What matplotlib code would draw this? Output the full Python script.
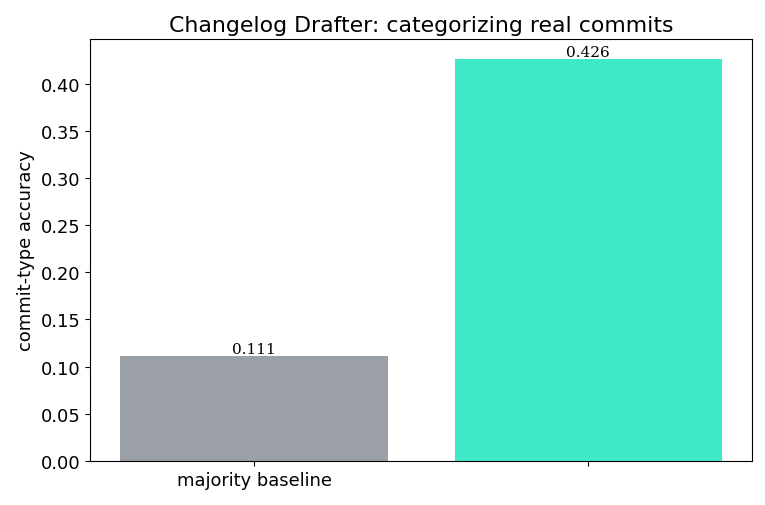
import matplotlib
matplotlib.use('Agg')
import matplotlib.pyplot as plt

# data
methods = ['majority baseline', '']  # second tick label is hidden in the reference
accuracy = [0.111, 0.426]
colors = ['#9aa0a6', '#3ee8c8']

fig, ax = plt.subplots(figsize=(7.65, 5.06), dpi=100)
bars = ax.bar(methods, accuracy, color=colors, width=0.8)

# value labels on top of the bars
for b, v in zip(bars, accuracy):
    ax.text(b.get_x() + b.get_width() / 2, v, f'{v:.3f}', ha='center', va='bottom',
            family='DejaVu Serif', fontsize=11)

ax.set_title('Changelog Drafter: categorizing real commits', fontsize=15.8)
ax.set_ylabel('commit-type accuracy', fontsize=12.9)
ax.tick_params(labelsize=12.9)

fig.subplots_adjust(left=0.118, right=0.983, top=0.921, bottom=0.087)
fig.savefig('out.png')
